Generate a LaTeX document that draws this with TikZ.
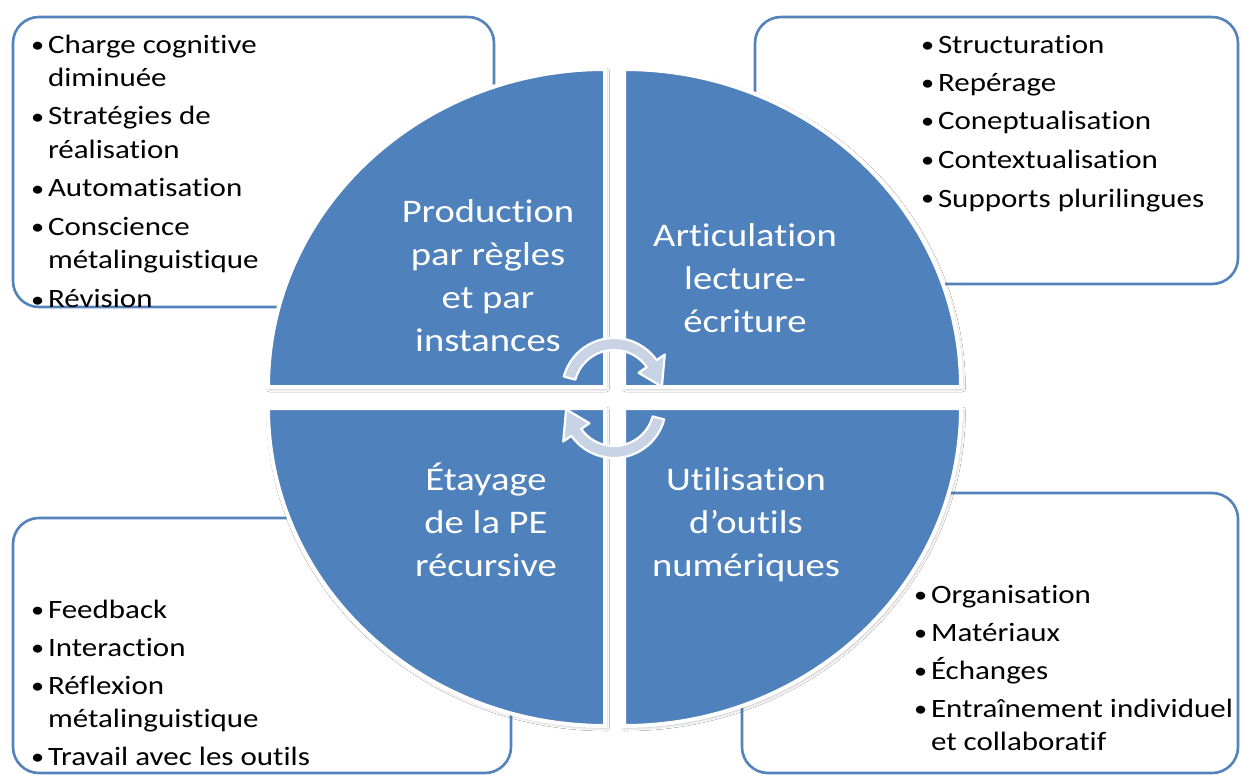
\documentclass[tikz,border=0pt]{standalone}
\usepackage{fontspec}
\setmainfont{Carlito}
\newfontfamily\lblfont[FakeStretch=1.17,RawFeature={-liga;-clig;-calt;-dlig}]{Carlito}
\usetikzlibrary{calc,shadows.blur}
\definecolor{qblue}{RGB}{79,129,189}
\definecolor{bline}{RGB}{84,130,187}
\definecolor{arrfill}{RGB}{200,211,229}
\newcommand\bul{\makebox[17pt][l]{\raisebox{1pt}{\scalebox{0.85}{\textbullet}}}}
\begin{document}
\begin{tikzpicture}[x=1pt,y=-1pt,
  listbox/.style={draw=bline,line width=2.6pt,fill=white,rounded corners=26pt},
  quad/.style={fill=qblue,draw=white,line width=4pt,
    blur shadow={shadow xshift=1.5pt,shadow yshift=-2pt,shadow blur radius=3pt,shadow opacity=30}},
  btext/.style={inner sep=0pt,outer sep=0pt,anchor=base west,text=black,
    font={\lblfont\fontsize{26.5pt}{33pt}\selectfont}},
  qtext/.style={inner sep=0pt,outer sep=0pt,anchor=base,text=white,
    font={\lblfont\fontsize{33pt}{43pt}\selectfont}},
  arrowshape/.style={fill=arrfill,draw=white,line width=2.2pt,line join=round}]
\fill[white] (0,0) rectangle (1242,776);
\useasboundingbox (0,0) rectangle (1242,776);

% list boxes
\draw[listbox] (13,17) rectangle (494,307);
\draw[listbox] (755,17) rectangle (1238,284);
\draw[listbox] (13,518) rectangle (511,773);
\draw[listbox] (742,493) rectangle (1238,773);

% quadrants
\path[quad] (605,387) -- (268,387) arc[start angle=180,end angle=270,x radius=337,y radius=318] -- cycle;
\path[quad] (624,387) -- (624,69) arc[start angle=270,end angle=360,x radius=337,y radius=318] -- cycle;
\path[quad] (624,408) -- (961,408) arc[start angle=0,end angle=90,x radius=337,y radius=318] -- cycle;
\path[quad] (605,408) -- (605,726) arc[start angle=90,end angle=180,x radius=337,y radius=318] -- cycle;

% circular arrows
\coordinate (U) at (614,390);
\coordinate (L) at (614,406);
\path[arrowshape] ($(U)+(-165:52)$) arc[start angle=-165,end angle=-35,radius=52]
  -- ($(U)+(-35:62)$) -- ($(U)+(-4:48)$) -- ($(U)+(-35:30)$) -- ($(U)+(-35:40)$)
  arc[start angle=-35,end angle=-165,radius=40] -- cycle;
\path[arrowshape] ($(L)+(15:52)$) arc[start angle=15,end angle=145,radius=52]
  -- ($(L)+(145:62)$) -- ($(L)+(176:48)$) -- ($(L)+(145:30)$) -- ($(L)+(145:40)$)
  arc[start angle=145,end angle=15,radius=40] -- cycle;

% quadrant labels
\node[qtext] (q1) at (488,222) {\begin{tabular}[t]{@{}c@{}}Production\\par règles\\et par\\instances\end{tabular}};
\node[qtext] (q2) at (745,246) {\begin{tabular}[t]{@{}c@{}}Articulation\\lecture-\\écriture\end{tabular}};
\node[qtext] (q3) at (486,490) {\begin{tabular}[t]{@{}c@{}}Étayage\\de la PE\\récursive\end{tabular}};
\node[qtext] (q4) at (746,490) {\begin{tabular}[t]{@{}c@{}}Utilisation\\d’outils\\numériques\end{tabular}};

% list texts
\node[btext] (l1) at (31,53) {\begin{tabular}[t]{@{}l@{}l@{}}
\bul & Charge cognitive\\ & diminuée\\[6pt]
\bul & Stratégies de\\ & réalisation\\[6pt]
\bul & Automatisation\\[6pt]
\bul & Conscience\\ & métalinguistique\\[6pt]
\bul & Révision\end{tabular}};
\node[btext] (l2) at (921,53) {\begin{tabular}[t]{@{}l@{}l@{}}
\bul & Structuration\\[5.5pt]
\bul & Repérage\\[5.5pt]
\bul & Coneptualisation\\[5.5pt]
\bul & Contextualisation\\[5.5pt]
\bul & Supports plurilingues\end{tabular}};
\node[btext] (l3) at (31,618) {\begin{tabular}[t]{@{}l@{}l@{}}
\bul & Feedback\\[5pt]
\bul & Interaction\\[5pt]
\bul & Réflexion\\ & métalinguistique\\[5pt]
\bul & Travail avec les outils\end{tabular}};
\node[btext] (l4) at (914,603) {\begin{tabular}[t]{@{}l@{}l@{}}
\bul & Organisation\\[5pt]
\bul & Matériaux\\[5pt]
\bul & Échanges\\[5pt]
\bul & Entraînement individuel\\ & et collaboratif\end{tabular}};
\end{tikzpicture}
\end{document}
